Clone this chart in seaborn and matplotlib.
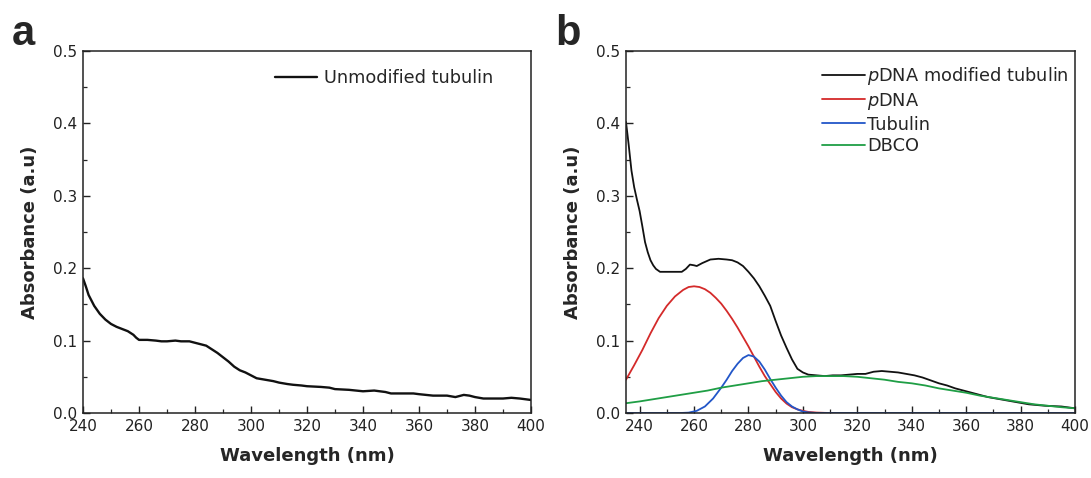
import numpy as np
import pandas as pd
import matplotlib
matplotlib.use("Agg")
import matplotlib.pyplot as plt
from matplotlib.ticker import MultipleLocator
import seaborn as sns

# ---- Panel a: unmodified tubulin ----
wl_a = [240, 241, 242, 244, 246, 248, 250, 252, 254, 256, 258, 259, 260, 263, 266, 268, 270,
        273, 275, 278, 280, 282, 284, 286, 288, 290, 292, 294, 296, 298, 300, 302, 305, 308,
        310, 313, 315, 318, 320, 325, 328, 330, 335, 340, 344, 346, 348, 350, 355, 358, 360,
        365, 368, 370, 373, 376, 378, 380, 383, 386, 390, 393, 396, 398, 400]
abs_a = [0.186, 0.175, 0.163, 0.148, 0.137, 0.129, 0.123, 0.119, 0.116, 0.113, 0.108, 0.104,
         0.101, 0.101, 0.100, 0.099, 0.099, 0.100, 0.099, 0.099, 0.097, 0.095, 0.093, 0.088,
         0.083, 0.077, 0.071, 0.064, 0.059, 0.056, 0.052, 0.048, 0.046, 0.044, 0.042, 0.040,
         0.039, 0.038, 0.037, 0.036, 0.035, 0.033, 0.032, 0.030, 0.031, 0.030, 0.029, 0.027,
         0.027, 0.027, 0.026, 0.024, 0.024, 0.024, 0.022, 0.025, 0.024, 0.022, 0.020, 0.020,
         0.020, 0.021, 0.020, 0.019, 0.018]

# ---- Panel b ----
wl_mod = [235, 236, 237, 238, 239, 240, 241, 242, 243, 244, 245, 246, 247.5, 250, 253, 255.5,
          257, 258.5, 260, 261, 263, 266, 269, 272, 274, 276, 278, 280, 282, 284, 286, 288,
          290, 292, 294, 296, 298, 300, 302, 305, 308, 311, 314, 317, 320, 323, 326, 329,
          332, 335, 338, 341, 344, 347, 350, 353, 356, 359, 362, 365, 368, 371, 374, 377,
          380, 383, 386, 389, 392, 395, 398, 400]
abs_mod = [0.402, 0.370, 0.335, 0.312, 0.295, 0.279, 0.258, 0.236, 0.222, 0.211, 0.204, 0.199,
           0.195, 0.195, 0.195, 0.195, 0.199, 0.205, 0.204, 0.203, 0.207, 0.212, 0.213, 0.212,
           0.211, 0.208, 0.203, 0.195, 0.186, 0.175, 0.162, 0.148, 0.127, 0.107, 0.090, 0.074,
           0.061, 0.056, 0.053, 0.052, 0.051, 0.052, 0.052, 0.053, 0.054, 0.054, 0.057, 0.058,
           0.057, 0.056, 0.054, 0.052, 0.049, 0.045, 0.041, 0.038, 0.034, 0.031, 0.028, 0.025,
           0.022, 0.020, 0.018, 0.016, 0.014, 0.012, 0.011, 0.010, 0.0095, 0.009, 0.0075, 0.0065]

wl_pdna = [235, 238, 241, 244, 247, 250, 253, 256, 258, 260, 262, 264, 266, 268, 270, 272,
           274, 276, 278, 280, 282, 284, 286, 288, 290, 292, 294, 296, 298, 300, 302, 305,
           308, 311]
abs_pdna = [0.046, 0.066, 0.087, 0.110, 0.131, 0.148, 0.161, 0.170, 0.174, 0.175, 0.174, 0.171,
            0.166, 0.159, 0.151, 0.141, 0.130, 0.118, 0.105, 0.092, 0.078, 0.064, 0.051, 0.040,
            0.029, 0.020, 0.013, 0.008, 0.005, 0.003, 0.0015, 0.0006, 0.0002, 0.0]

wl_tub = [235, 250, 255, 258, 261, 264, 267, 270, 272, 274, 276, 278, 280, 282, 284, 286, 288,
          290, 292, 294, 296, 298, 300, 302, 305, 320, 350, 400]
abs_tub = [0.0, 0.0, 0.0, 0.0005, 0.003, 0.009, 0.020, 0.035, 0.046, 0.058, 0.068, 0.076, 0.080,
           0.078, 0.071, 0.060, 0.047, 0.035, 0.024, 0.015, 0.009, 0.005, 0.002, 0.0008, 0.0,
           0.0, 0.0, 0.0]

wl_dbco = [235, 240, 245, 250, 255, 260, 265, 270, 275, 280, 285, 290, 295, 300, 305, 310,
           315, 320, 325, 330, 335, 340, 345, 350, 355, 360, 365, 370, 375, 380, 385, 390,
           395, 400]
abs_dbco = [0.0135, 0.016, 0.019, 0.022, 0.025, 0.028, 0.031, 0.035, 0.038, 0.041, 0.044, 0.046,
            0.048, 0.050, 0.051, 0.051, 0.051, 0.050, 0.048, 0.046, 0.043, 0.041, 0.038, 0.034,
            0.031, 0.028, 0.024, 0.021, 0.018, 0.015, 0.012, 0.010, 0.008, 0.0065]

labels_b = [r"$\it{p}$DNA modified tubulin", r"$\it{p}$DNA", "Tubulin", "DBCO"]
colors_b = ["#111111", "#d42a2a", "#2256c8", "#1f9e45"]

x_ticks = [240, 260, 280, 300, 320, 340, 360, 380, 400]
y_ticks = [0.0, 0.1, 0.2, 0.3, 0.4, 0.5]

sns.set_style("ticks")
plt.rcParams["font.family"] = ["DejaVu Sans"]
plt.rcParams["mathtext.fontset"] = "dejavusans"

fig = plt.figure(figsize=(10.91, 4.78), dpi=100)
ax_a = fig.add_axes([83 / 1091, 65 / 478, 448 / 1091, 362 / 478])
ax_b = fig.add_axes([626 / 1091, 65 / 478, 449 / 1091, 362 / 478])

df_a = pd.DataFrame({"wl": wl_a, "abs": abs_a, "s": "Unmodified tubulin"})
sns.lineplot(data=df_a, x="wl", y="abs", hue="s", palette=["#111111"], ax=ax_a,
             linewidth=1.7, estimator=None, sort=False)

frames = []
for lab, xs, ys in zip(labels_b, [wl_mod, wl_pdna, wl_tub, wl_dbco],
                       [abs_mod, abs_pdna, abs_tub, abs_dbco]):
    frames.append(pd.DataFrame({"wl": xs, "abs": ys, "s": lab}))
df_b = pd.concat(frames, ignore_index=True)
sns.lineplot(data=df_b, x="wl", y="abs", hue="s", hue_order=labels_b, palette=colors_b,
             ax=ax_b, linewidth=1.3, estimator=None, sort=False)

for ax, xl in [(ax_a, (240, 400)), (ax_b, (235, 400))]:
    ax.set_xlim(*xl)
    ax.set_ylim(0, 0.5)
    ax.set_xticks(x_ticks)
    ax.set_xticklabels([str(t) for t in x_ticks])
    ax.set_yticks(y_ticks)
    ax.set_yticklabels([f"{t:.1f}" for t in y_ticks])
    ax.xaxis.set_minor_locator(MultipleLocator(10))
    ax.yaxis.set_minor_locator(MultipleLocator(0.05))
    ax.tick_params(axis="both", which="major", direction="in", length=5, width=1,
                   labelsize=11, colors="#222222", pad=4)
    ax.tick_params(axis="both", which="minor", direction="in", length=3, width=0.9)
    ax.tick_params(top=False, right=False)
    for sp in ax.spines.values():
        sp.set_visible(True)
        sp.set_linewidth(1.1)
        sp.set_color("#222222")
    ax.set_xlabel("Wavelength (nm)", fontsize=13, fontweight="bold", labelpad=10)
    ax.set_ylabel("Absorbance (a.u)", fontsize=13, fontweight="bold", labelpad=10)

leg_a = ax_a.legend(loc="upper right", bbox_to_anchor=(0.915, 0.95), frameon=False,
                    fontsize=12.8, handlelength=2.4, handletextpad=0.35,
                    borderpad=0, borderaxespad=0)
for h in leg_a.get_lines():
    h.set_linewidth(1.7)

leg_b = ax_b.legend(loc="upper right", bbox_to_anchor=(0.987, 0.962), frameon=False,
                    fontsize=12.8, handlelength=2.4, handletextpad=0.15, labelspacing=0.22,
                    borderpad=0, borderaxespad=0)
for h in leg_b.get_lines():
    h.set_linewidth(1.3)

fig.text(12 / 1091, 1 - 45 / 478, "a", fontsize=30, fontweight="bold", family="Liberation Sans")
fig.text(555 / 1091, 1 - 45 / 478, "b", fontsize=30, fontweight="bold", family="Liberation Sans")

fig.savefig("out.png", dpi=100)
